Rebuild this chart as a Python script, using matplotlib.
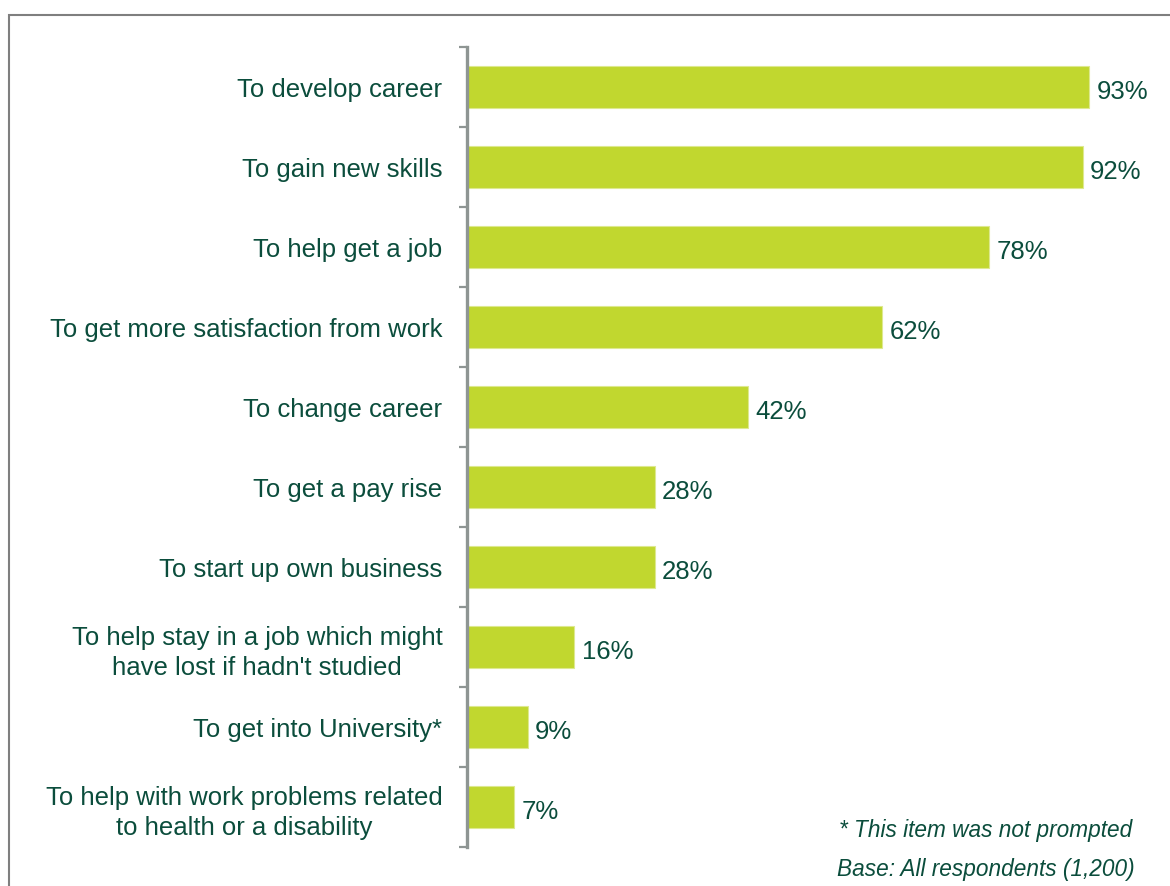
import matplotlib
matplotlib.use("Agg")
import matplotlib.pyplot as plt
from matplotlib.patches import Rectangle
import numpy as np

plt.rcParams['font.family'] = ['Liberation Sans', 'DejaVu Sans']

reasons = [
    "To develop career",
    "To gain new skills",
    "To help get a job",
    "To get more satisfaction from work",
    "To change career",
    "To get a pay rise",
    "To start up own business",
    "To help stay in a job which might\nhave lost if hadn't studied",
    "To get into University*",
    "To help with work problems related\nto health or a disability",
]
pct = [93, 92, 78, 62, 42, 28, 28, 16, 9, 7]

text_col = '#0B4D3C'
bar_col = '#C1D72F'
axis_col = '#8E9593'

fig = plt.figure(figsize=(11.7, 8.87), dpi=100)
ax = fig.add_axes([0.3995, 0.044, 0.5715, 0.9019])

y = np.arange(len(reasons))
ax.barh(y, pct, height=0.52, color=bar_col, edgecolor='#DDE98F', linewidth=0.8)
for yi, v in zip(y, pct):
    ax.text(v + 1.1, yi + 0.05, f"{v}%", va='center', ha='left', fontsize=18.5, color=text_col)

ax.set_xlim(0, 100)
ax.set_ylim(len(reasons) - 0.5, -0.5)

# ticks sit between categories, labels at category centres
ax.set_yticks(np.arange(-0.5, len(reasons), 1.0))
ax.set_yticklabels([])
ax.set_yticks(y, minor=True)
ax.set_yticklabels(reasons, minor=True, fontsize=18.5, color=text_col)
for lab in ax.get_yticklabels(minor=True):
    lab.set_multialignment('center')
    lab.set_linespacing(1.3)
ax.tick_params(axis='y', which='major', length=6, width=1.6, color=axis_col)
ax.tick_params(axis='y', which='minor', length=0, pad=18)
ax.set_xticks([])

for s in ['top', 'right', 'bottom']:
    ax.spines[s].set_visible(False)
ax.spines['left'].set_color(axis_col)
ax.spines['left'].set_linewidth(2.4)

fig.text(0.9675, 0.064, "* This item was not prompted", ha='right', va='center',
         fontsize=16.3, style='italic', color=text_col)
fig.text(0.970, 0.020, "Base: All respondents (1,200)", ha='right', va='center',
         fontsize=16.3, style='italic', color=text_col)

# outer frame, running off the right and bottom edges
fig.patches.append(Rectangle((0.0077, -0.1), 1.2, 0.982 + 0.1, transform=fig.transFigure,
                             fill=False, edgecolor='#7F7F7F', linewidth=1.5))

fig.savefig("out.png", dpi=100)
